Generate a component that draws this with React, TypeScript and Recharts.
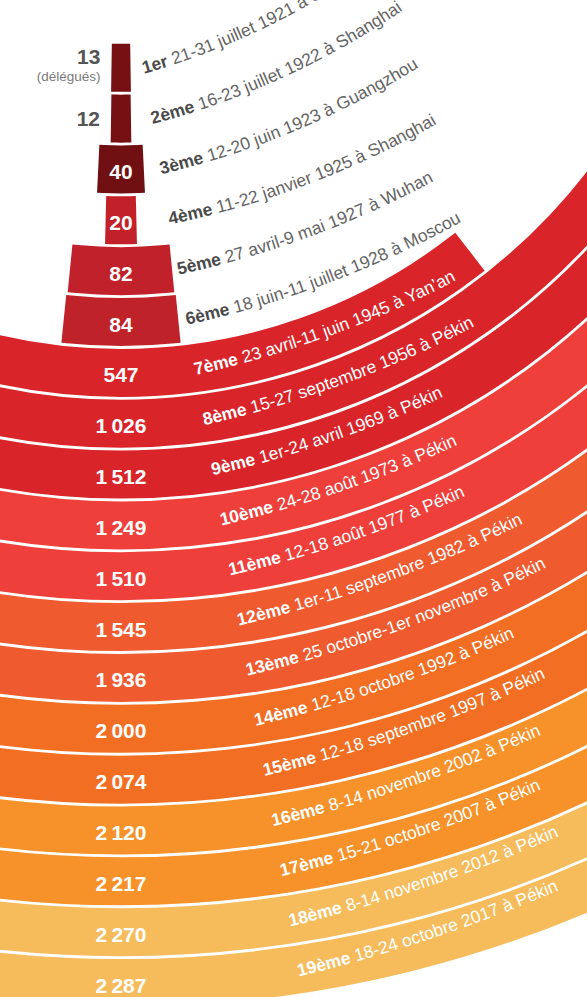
import React from 'react';
import {
  RadialBarChart,
  RadialBar,
  PolarAngleAxis,
  PolarRadiusAxis,
  Cell,
  LabelList,
} from 'recharts';

const congresses = [
  '1er', '2ème', '3ème', '4ème', '5ème', '6ème', '7ème', '8ème', '9ème', '10ème',
  '11ème', '12ème', '13ème', '14ème', '15ème', '16ème', '17ème', '18ème', '19ème',
];

const sessions = [
  '21-31 juillet 1921 à Shanghai',
  '16-23 juillet 1922 à Shanghai',
  '12-20 juin 1923 à Guangzhou',
  '11-22 janvier 1925 à Shanghai',
  '27 avril-9 mai 1927 à Wuhan',
  '18 juin-11 juillet 1928 à Moscou',
  '23 avril-11 juin 1945 à Yan’an',
  '15-27 septembre 1956 à Pékin',
  '1er-24 avril 1969 à Pékin',
  '24-28 août 1973 à Pékin',
  '12-18 août 1977 à Pékin',
  '1er-11 septembre 1982 à Pékin',
  '25 octobre-1er novembre à Pékin',
  '12-18 octobre 1992 à Pékin',
  '12-18 septembre 1997 à Pékin',
  '8-14 novembre 2002 à Pékin',
  '15-21 octobre 2007 à Pékin',
  '8-14 novembre 2012 à Pékin',
  '18-24 octobre 2017 à Pékin',
];

const delegates = [13, 12, 40, 20, 82, 84, 547, 1026, 1512, 1249, 1510, 1545, 1936, 2000, 2074, 2120, 2217, 2270, 2287];

const colors = [
  '#761013', '#761013', '#701012', '#c3212a', '#c0212a', '#c0222a', '#d92429', '#d92429', '#d92429',
  '#ee3f3b', '#ee3f3b', '#f05a2f', '#f05a2f', '#f26e22', '#f26e22', '#f7922a', '#f7922a', '#f6bc5c', '#f6bc5c',
];

// half-circle of the angle axis, in delegates (0.138° per delegate)
const HALF_SPAN = 1304;
const STROKE = 11;
const FONT = '"Liberation Sans", Arial, sans-serif';

const data = congresses.map((name, i) => ({
  name,
  delegates: delegates[i],
  span: [-delegates[i] / 2, delegates[i] / 2],
}));

const fmt = (v: number) => String(v).replace(/\B(?=(\d{3})+(?!\d))/g, '\u2009');

const getVB = (props: any) => {
  const vb = props.viewBox && props.viewBox.innerRadius != null ? props.viewBox : props;
  return vb;
};

const renderValue = (props: any) => {
  const { cx, cy, innerRadius, outerRadius, startAngle, endAngle } = getVB(props);
  const i = props.index;
  const rMid = (innerRadius + outerRadius) / 2;
  const half = (Math.abs(endAngle - startAngle) / 2) * (Math.PI / 180);
  const width = 2 * rMid * Math.sin(half) + STROKE;
  const text = fmt(Number(props.value));
  if (width < 30) {
    const xRight = cx - rMid * Math.sin(half) - STROKE / 2 - 11;
    const y = cy + rMid;
    return (
      <g key={`v-${i}`}>
        <text
          x={xRight}
          y={i === 0 ? y - 11 : y}
          textAnchor="end"
          dominantBaseline="central"
          fontFamily={FONT}
          fontWeight="bold"
          fontSize={21}
          fill="#555555"
        >
          {text}
        </text>
        {i === 0 && (
          <text
            x={xRight}
            y={y + 9}
            textAnchor="end"
            dominantBaseline="central"
            fontFamily={FONT}
            fontSize={13.5}
            fill="#7a7a7a"
          >
            (délégués)
          </text>
        )}
      </g>
    );
  }
  return (
    <text
      key={`v-${i}`}
      x={cx}
      y={cy + rMid + 2}
      textAnchor="middle"
      dominantBaseline="central"
      fontFamily={FONT}
      fontWeight="bold"
      fontSize={21}
      fill="#ffffff"
    >
      {text}
    </text>
  );
};

const renderArcText = (props: any) => {
  const { cx, cy, innerRadius, outerRadius } = getVB(props);
  const i = props.index;
  const rMid = (innerRadius + outerRadius) / 2;
  const rb = rMid + 7;
  const dx = 23 + 8.6 * i;
  const phi1 = Math.asin(dx / rb);
  const sx = cx + rb * Math.sin(phi1);
  const sy = cy + rb * Math.cos(phi1);
  // text follows a flatter arc than the band, slightly tilted
  const rt = rb + 500;
  const tilt = 5 + (6 * Math.max(0, 3 - i)) / 3;
  const th0 = phi1 + (tilt * Math.PI) / 180;
  const ccx = sx - rt * Math.sin(th0);
  const ccy = sy - rt * Math.cos(th0);
  const th2 = th0 + 520 / rt;
  const ex = ccx + rt * Math.sin(th2);
  const ey = ccy + rt * Math.cos(th2);
  const id = `arc-path-${i}`;
  const inside = i >= 6;
  return (
    <g key={`a-${i}`}>
      <defs>
        <path id={id} d={`M ${sx} ${sy} A ${rt} ${rt} 0 0 0 ${ex} ${ey}`} fill="none" />
      </defs>
      <text fontFamily={FONT} fontSize={17.5} fill={inside ? '#ffffff' : '#646464'}>
        <textPath href={`#${id}`}>
          <tspan fontWeight="bold" fill={inside ? '#ffffff' : '#4a4a4a'}>
            {congresses[i]}
          </tspan>
          <tspan> {sessions[i]}</tspan>
        </textPath>
      </text>
    </g>
  );
};

export default function App() {
  return (
    <div style={{ width: 587, height: 997, background: '#ffffff', overflow: 'hidden' }}>
      <style>{'body{margin:0;}'}</style>
      <RadialBarChart
        width={587}
        height={997}
        data={data}
        cx={121}
        cy={-190}
        innerRadius={232.3}
        outerRadius={1198.4}
        startAngle={-270}
        endAngle={90}
        margin={{ top: 0, right: 0, bottom: 0, left: 0 }}
      >
        <PolarAngleAxis type="number" domain={[-HALF_SPAN, HALF_SPAN]} tick={false} axisLine={false} />
        <PolarRadiusAxis type="category" dataKey="name" tick={false} axisLine={false} />
        <RadialBar dataKey="span" barSize={37} isAnimationActive={false}>
          {data.map((d, i) => (
            <Cell key={d.name} fill={colors[i]} stroke={colors[i]} strokeWidth={STROKE} />
          ))}
          <LabelList dataKey="delegates" content={renderValue} />
          <LabelList dataKey="name" content={renderArcText} />
        </RadialBar>
      </RadialBarChart>
    </div>
  );
}
